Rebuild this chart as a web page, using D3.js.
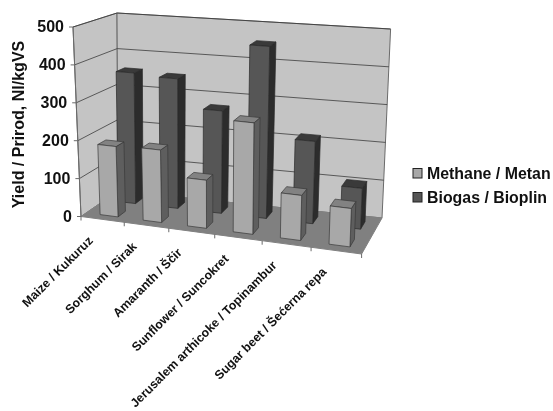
<!DOCTYPE html>
<html>
<head>
<meta charset="utf-8">
<script src="https://cdn.jsdelivr.net/npm/d3@7"></script>
<style>
  html, body { margin: 0; padding: 0; background: #fff; }
  svg { display: block; filter: blur(0.35px); }
  text { font-family: "Liberation Sans", Arial, sans-serif; font-weight: bold; fill: #111; }
</style>
</head>
<body>
<div id="chart"></div>
<script>
"use strict";
const categories = ["Maize / Kukuruz", "Sorghum / Sirak", "Amaranth / Ščir", "Sunflower / Suncokret",
  "Jerusalem arthicoke / Topinambur", "Sugar beet / Šećerna repa"];
const seriesNames = ["Methane / Metan", "Biogas / Bioplin"];
const methane = [186, 190, 125, 287, 115, 97];
const biogas = [356, 350, 274, 456, 216, 106];
const yTicks = [0, 100, 200, 300, 400, 500];

const width = 553;
const height = 411;

// corners of the 3D box on screen, [front, back]
const box = {
  bottomLeft: [[81, 216.5], [118, 191]],
  bottomRight: [[361.6, 254], [382, 218]],
  topLeft: [[73, 27], [117, 13]],
  topRight: [[369.6, 54], [390.6, 29]]
};
const warp = 1.098; // perspective along the category axis

const lerp = (a, b, t) => [a[0] + (b[0] - a[0]) * t, a[1] + (b[1] - a[1]) * t];
const project = (u, v, w) => {
  const f = u / (u + (1 - u) * warp);
  const bottom = lerp(lerp(box.bottomLeft[0], box.bottomRight[0], f), lerp(box.bottomLeft[1], box.bottomRight[1], f), v);
  const top = lerp(lerp(box.topLeft[0], box.topRight[0], f), lerp(box.topLeft[1], box.topRight[1], f), v);
  return lerp(bottom, top, w);
};

const x = d3.scaleBand().domain(categories).range([0.006, 1]).paddingInner(0.58).paddingOuter(0.29);
const band = d3.scaleBand().domain(categories).range([0, 1]);
const z = d3.scaleBand().domain(seriesNames).range([0, 1]).paddingInner(0.58).paddingOuter(0.29);
const y = d3.scaleLinear().domain([0, 500]).range([0, 1]);
const yPixels = d3.scaleLinear().domain([0, 500]).range([box.bottomLeft[0][1], box.topLeft[0][1]]);

const svg = d3.select("#chart").append("svg")
  .attr("width", width)
  .attr("height", height);

const line = d3.line();
const quad = pts => line(pts) + "Z";

// walls and floor
const wallColor = "#c4c4c4";
const frameColor = "#6a6a6a";
svg.append("path")
  .attr("d", quad([project(0, 0, 0), project(0, 1, 0), project(0, 1, 1), project(0, 0, 1)]))
  .attr("fill", wallColor).attr("stroke", frameColor);
svg.append("path")
  .attr("d", quad([project(0, 1, 0), project(1, 1, 0), project(1, 1, 1), project(0, 1, 1)]))
  .attr("fill", wallColor).attr("stroke", frameColor);

const grid = svg.append("g").attr("fill", "none").attr("stroke", "#3c3c3c").attr("stroke-width", 0.8);
grid.selectAll("path")
  .data(yTicks.slice(1))
  .enter()
  .append("path")
  .attr("d", d => line([project(0, 0, y(d)), project(0, 1, y(d)), project(1, 1, y(d))]));

svg.append("path")
  .attr("d", quad([project(0, 0, 0), project(1, 0, 0), project(1, 1, 0), project(0, 1, 0)]))
  .attr("fill", "#808080").attr("stroke", "#808080");

// value axis follows the front edge of the side wall
const yAxis = svg.append("g")
  .call(d3.axisLeft(yPixels).tickValues(yTicks).tickSize(4).tickPadding(5));
yAxis.select(".domain").remove();
yAxis.selectAll(".tick")
  .attr("transform", d => `translate(${project(0, 0, y(d))})`);
yAxis.selectAll(".tick line").attr("stroke", frameColor);
yAxis.selectAll(".tick text").style("font-size", "16px");
yAxis.attr("font-family", null).attr("font-size", null);
svg.append("path")
  .attr("d", line([project(0, 0, 0), project(0, 0, 1)]))
  .attr("stroke", frameColor).attr("fill", "none");

// category ticks and labels along the front edge of the floor
const bandEdges = d3.range(categories.length + 1).map(i => i / categories.length);
svg.append("g")
  .selectAll("line")
  .data(bandEdges)
  .enter()
  .append("line")
  .attr("x1", d => project(d, 0, 0)[0])
  .attr("y1", d => project(d, 0, 0)[1])
  .attr("x2", d => project(d, 0, 0)[0])
  .attr("y2", d => project(d, 0, 0)[1] + 4)
  .attr("stroke", frameColor);

svg.append("g")
  .selectAll("text")
  .data(categories)
  .enter()
  .append("text")
  .attr("transform", d => {
    const p = project(band(d) + band.bandwidth() / 2, 0, 0);
    return `translate(${p[0] - 12}, ${p[1] + 19}) rotate(-45)`;
  })
  .attr("text-anchor", "end")
  .attr("dy", "0.35em")
  .style("font-size", "12.4px")
  .text(d => d);

// bars, back series first
const barStyles = {
  "Methane / Metan": { front: "#a8a8a8", side: "#5e5e5e", top: "#828282", stroke: "#3a3a3a" },
  "Biogas / Bioplin": { front: "#565656", side: "#2c2c2c", top: "#3a3a3a", stroke: "#2a2a2a" }
};
const seriesValues = { "Methane / Metan": methane, "Biogas / Bioplin": biogas };

[seriesNames[1], seriesNames[0]].forEach(name => {
  const style = barStyles[name];
  const bars = svg.append("g")
    .selectAll("g")
    .data(categories.map((c, i) => ({ category: c, value: seriesValues[name][i] })))
    .enter()
    .append("g")
    .attr("stroke", style.stroke)
    .attr("stroke-width", 0.7)
    .attr("stroke-linejoin", "round");
  const u0 = d => x(d.category);
  const u1 = d => x(d.category) + x.bandwidth();
  const v0 = z(name);
  const v1 = z(name) + z.bandwidth();
  bars.append("path")
    .attr("fill", style.side)
    .attr("d", d => quad([project(u1(d), v0, 0), project(u1(d), v1, 0), project(u1(d), v1, y(d.value)), project(u1(d), v0, y(d.value))]));
  bars.append("path")
    .attr("fill", style.top)
    .attr("d", d => quad([project(u0(d), v0, y(d.value)), project(u1(d), v0, y(d.value)), project(u1(d), v1, y(d.value)), project(u0(d), v1, y(d.value))]));
  bars.append("path")
    .attr("fill", style.front)
    .attr("d", d => quad([project(u0(d), v0, 0), project(u1(d), v0, 0), project(u1(d), v0, y(d.value)), project(u0(d), v0, y(d.value))]));
});

// axis title
svg.append("text")
  .attr("transform", "translate(24, 124.5) rotate(-90)")
  .attr("text-anchor", "middle")
  .style("font-size", "16px")
  .text("Yield / Prirod, Nl/kgVS");

// legend
const legendY = d3.scalePoint().domain(seriesNames).range([173.5, 197.5]);
const legend = svg.append("g")
  .selectAll("g")
  .data(seriesNames)
  .enter()
  .append("g")
  .attr("transform", d => `translate(413, ${legendY(d)})`);
legend.append("rect")
  .attr("y", -5)
  .attr("width", 9)
  .attr("height", 9.5)
  .attr("fill", d => barStyles[d].front)
  .attr("stroke", "#222")
  .attr("stroke-width", 1);
legend.append("text")
  .attr("x", 14)
  .attr("dy", "0.35em")
  .style("font-size", "15.9px")
  .text(d => d);
</script>
</body>
</html>
